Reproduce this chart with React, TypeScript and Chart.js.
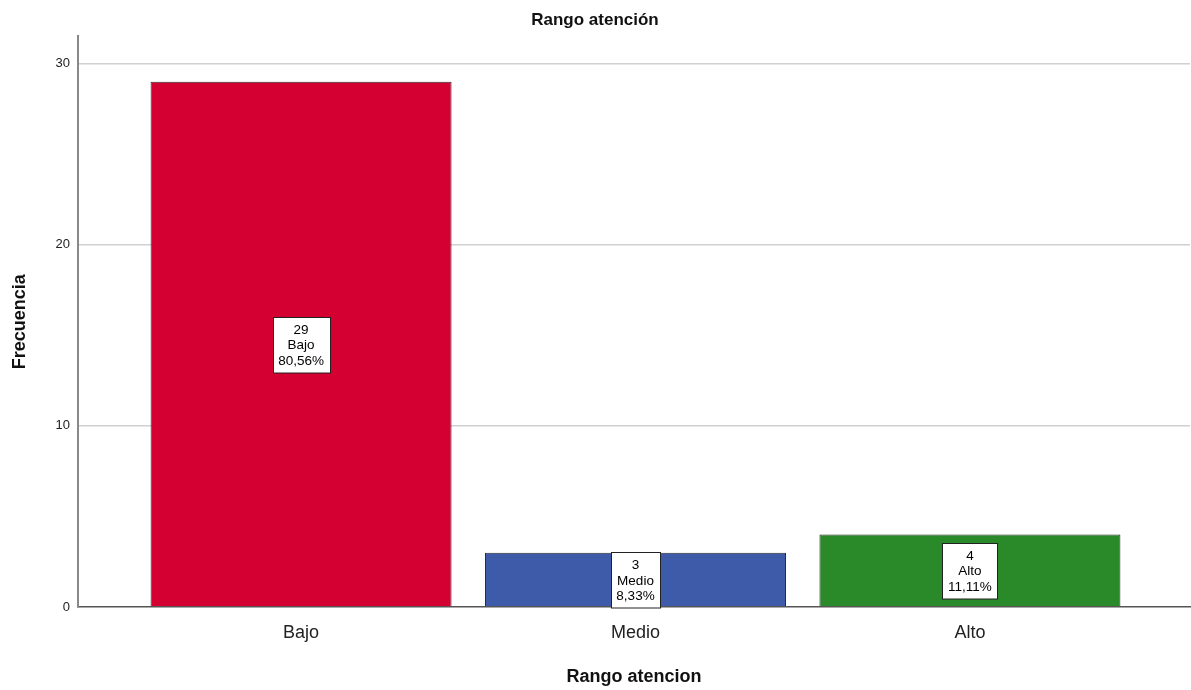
import { useEffect, useRef } from 'react'
import { Chart, registerables } from 'chart.js'

Chart.register(...registerables)

const categories = ['Bajo', 'Medio', 'Alto']
const counts = [29, 3, 4]
const percentLabels = ['80,56%', '8,33%', '11,11%']
const barColors = ['#d50032', '#3e5ba9', '#2a8a2a']
const yTicks = [0, 10, 20, 30]

const FONT = 'Arial, "Liberation Sans", sans-serif'

// white boxes with count / category / percent in the middle of each bar
const boxLabels = {
  id: 'boxLabels',
  afterDatasetsDraw(chart: Chart) {
    const ctx = chart.ctx
    const meta = chart.getDatasetMeta(0)
    const yScale = chart.scales.y
    ctx.save()
    ctx.font = `13.5px ${FONT}`
    ctx.textAlign = 'center'
    ctx.textBaseline = 'middle'
    meta.data.forEach((bar: any, i: number) => {
      const lines = [String(counts[i]), categories[i], percentLabels[i]]
      const w = Math.round(Math.max(...lines.map(l => ctx.measureText(l).width)) + 11)
      const lh = 15.5
      const h = lh * 3 + 9
      const cy = yScale.getPixelForValue(counts[i] / 2)
      const x0 = Math.round(bar.x - w / 2) + 0.5
      const y0 = Math.round(cy - h / 2) + 0.5
      ctx.fillStyle = '#ffffff'
      ctx.fillRect(x0, y0, w, h)
      ctx.strokeStyle = '#222222'
      ctx.lineWidth = 1
      ctx.strokeRect(x0, y0, w, h)
      ctx.fillStyle = '#000000'
      lines.forEach((l, k) => {
        ctx.fillText(l, bar.x, cy + (k - 1) * lh + 1)
      })
    })
    ctx.restore()
  },
}

export default function App() {
  const canvasRef = useRef<HTMLCanvasElement>(null)
  const chartRef = useRef<Chart | null>(null)

  useEffect(() => {
    if (!canvasRef.current) return
    const ctx = canvasRef.current.getContext('2d')
    if (!ctx) return
    if (chartRef.current) chartRef.current.destroy()

    chartRef.current = new Chart(ctx, {
      type: 'bar',
      data: {
        datasets: [{
          data: counts.map((v, i) => ({ x: i, y: v })),
          backgroundColor: barColors,
          borderColor: '#2b2b2b',
          borderWidth: 1,
          barPercentage: 0.9,
          categoryPercentage: 1,
        }],
      },
      plugins: [boxLabels],
      options: {
        animation: false,
        responsive: false,
        maintainAspectRatio: false,
        layout: { padding: { left: 0, right: 1, top: 0, bottom: 0 } },
        plugins: {
          legend: { display: false },
          tooltip: { enabled: false },
          title: {
            display: true,
            text: 'Rango atención',
            color: '#111',
            font: { family: FONT, size: 17, weight: 'bold' },
            padding: { top: 10, bottom: 6 },
          },
        },
        scales: {
          x: {
            type: 'linear',
            offset: false,
            min: -0.667,
            max: 2.658,
            afterBuildTicks: (scale: any) => {
              scale.ticks = categories.map((_, i) => ({ value: i }))
            },
            afterFit: (scale: any) => {
              scale.height = 83
            },
            grid: { display: false, drawTicks: false, offset: false },
            border: { display: true, color: '#555', width: 1.5 },
            ticks: {
              padding: 15,
              color: '#222',
              font: { family: FONT, size: 18 },
              callback: (v: any) => categories[Math.round(Number(v))] ?? '',
            },
            title: {
              display: true,
              text: 'Rango atencion',
              color: '#111',
              font: { family: FONT, size: 18, weight: 'bold' },
              padding: { top: 20, bottom: 2 },
            },
          },
          y: {
            min: 0,
            max: 31.5,
            afterBuildTicks: (scale: any) => {
              scale.ticks = yTicks.map(v => ({ value: v }))
            },
            afterFit: (scale: any) => {
              scale.width = 78
            },
            grid: {
              drawTicks: false,
              color: (c: any) => (c.tick && c.tick.value === 0 ? 'rgba(0,0,0,0)' : '#d0d0d0'),
              lineWidth: 1.5,
            },
            border: { display: true, color: '#888', width: 2 },
            ticks: {
              padding: 8,
              color: '#222',
              font: { family: FONT, size: 13 },
            },
            title: {
              display: true,
              text: 'Frecuencia',
              color: '#111',
              font: { family: FONT, size: 18, weight: 'bold' },
              padding: { top: 9, bottom: 0 },
            },
          },
        },
      },
    })

    return () => {
      if (chartRef.current) {
        chartRef.current.destroy()
        chartRef.current = null
      }
    }
  }, [])

  return (
    <div style={{ position: 'absolute', left: 0, top: 0, width: 1191, height: 690, background: '#fff' }}>
      <canvas ref={canvasRef} width={1191} height={690} style={{ width: 1191, height: 690 }} />
    </div>
  )
}
